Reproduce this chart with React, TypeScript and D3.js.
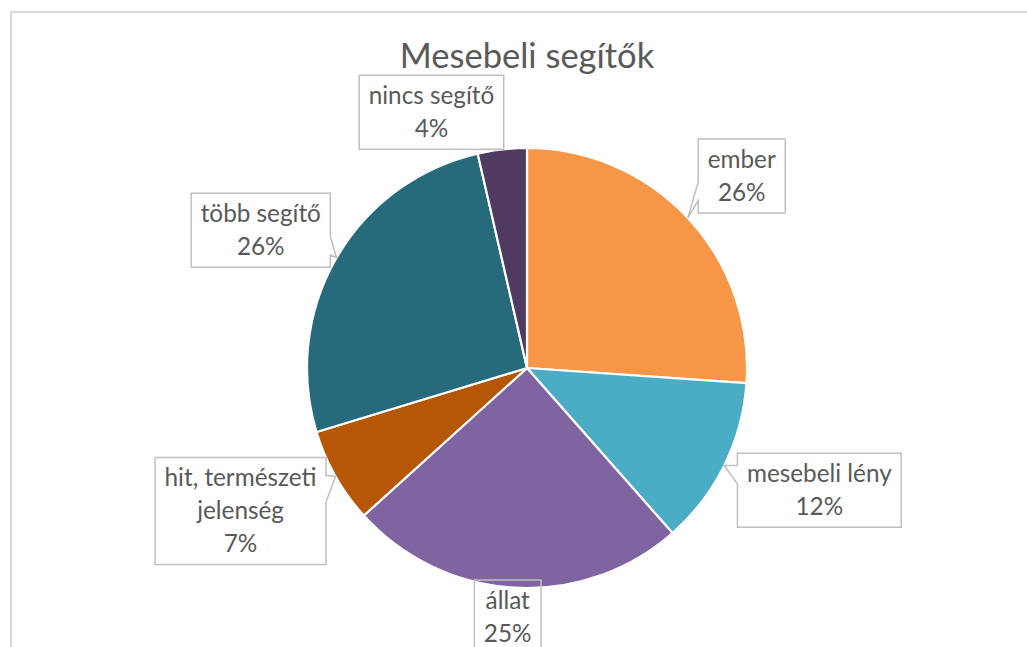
import React, { useEffect, useRef } from 'react';
import * as d3 from 'd3';

const width = 1027,
      height = 647;

const title = 'Mesebeli segítők';
const categories = ['ember', 'mesebeli lény', 'állat', 'hit, természeti jelenség', 'több segítő', 'nincs segítő'];
const shares = [26.1, 12.4, 24.8, 7.0, 26.1, 3.6];
const colors = ['#F79646', '#4BACC6', '#8064A2', '#B65708', '#276A7C', '#4F3B62'];

// callout placement tweaks per label (degrees of rotation, px away from the rim)
const labelNudge = [1.2, -3.6, 1.2, 3, -2.7, -14];
const labelGap = [11, 7, -8, 0, 1, 0];

const cx = 527, cy = 368, radius = 220;
const font = 'Lato, "Open Sans", sans-serif';
const textColor = '#595959';
const labelSize = 24.3, lineH = 33, padX = 9.5, padY = 4, wrapWidth = 175;

// office style wedgeRectCallout outline
const callout = (l: number, t: number, w: number, h: number, px: number, py: number) => {
    const r = l + w, b = t + h;
    if (px >= l && px <= r && py >= t && py <= b) {
        return `M${l},${t}L${r},${t}L${r},${b}L${l},${b}Z`;
    }
    const dxPos = px - (l + w / 2), dyPos = py - (t + h / 2);
    const x1 = l + w * (dxPos > 0 ? 7 : 2) / 12, x2 = l + w * (dxPos > 0 ? 10 : 5) / 12;
    const y1 = t + h * (dyPos > 0 ? 7 : 2) / 12, y2 = t + h * (dyPos > 0 ? 10 : 5) / 12;
    if (Math.abs(dxPos * h / w) > Math.abs(dyPos)) {
        if (dxPos < 0) return `M${l},${t}L${r},${t}L${r},${b}L${l},${b}L${l},${y2}L${px},${py}L${l},${y1}Z`;
        return `M${l},${t}L${r},${t}L${r},${y1}L${px},${py}L${r},${y2}L${r},${b}L${l},${b}Z`;
    }
    if (dyPos < 0) return `M${l},${t}L${x1},${t}L${px},${py}L${x2},${t}L${r},${t}L${r},${b}L${l},${b}Z`;
    return `M${l},${t}L${r},${t}L${r},${b}L${x2},${b}L${px},${py}L${x1},${b}L${l},${b}Z`;
};

const PieChart = () => {
    const ref = useRef<SVGSVGElement>(null);

    useEffect(() => {
        const svg = d3.select(ref.current);
        svg.selectAll('*').remove();

        svg.append('rect')
            .attr('x', 11).attr('y', 12)
            .attr('width', 1100).attr('height', 800)
            .attr('fill', '#fff')
            .attr('stroke', '#D9D9D9')
            .attr('stroke-width', 2);

        svg.append('text')
            .text(title)
            .attr('x', cx).attr('y', 68)
            .attr('text-anchor', 'middle')
            .attr('font-family', font)
            .attr('font-size', 34.5)
            .attr('fill', textColor);

        const g = svg.append('g').attr('transform', `translate(${cx},${cy})`);

        const pie = d3.pie<number>().sort(null).value(d => d);
        const arcs = pie(shares);
        const arc = d3.arc<d3.PieArcDatum<number>>().innerRadius(0).outerRadius(radius);
        const total = d3.sum(shares);
        const pct = (v: number) => Math.round(v / total * 100) + '%';

        g.selectAll('path.slice')
            .data(arcs)
            .join('path')
            .attr('class', 'slice')
            .attr('d', arc)
            .attr('fill', (d, i) => colors[i])
            .attr('stroke', '#fff')
            .attr('stroke-width', 2.2)
            .attr('stroke-linejoin', 'round');

        arcs.forEach((d, i) => {
            const grp = g.append('g');
            const txt = grp.append('text')
                .attr('font-family', font)
                .attr('font-size', labelSize)
                .attr('fill', textColor)
                .attr('text-anchor', 'middle');

            // greedy word wrap
            const lines: string[] = [];
            const probe = txt.append('tspan');
            let cur = '';
            categories[i].split(' ').forEach(w => {
                const test = cur ? cur + ' ' + w : w;
                probe.text(test);
                if (cur && (probe.node() as SVGTSpanElement).getComputedTextLength() > wrapWidth) {
                    lines.push(cur);
                    cur = w;
                } else cur = test;
            });
            lines.push(cur);
            lines.push(pct(d.value));
            probe.remove();

            const spans = lines.map(l => txt.append('tspan').attr('x', 0).text(l));
            const tw = d3.max(spans, s => (s.node() as SVGTSpanElement).getComputedTextLength()) || 0;
            const bw = tw + 2 * padX, bh = lines.length * lineH + 2 * padY;

            const mid = (d.startAngle + d.endAngle) / 2;
            const a = mid + labelNudge[i] * Math.PI / 180;
            const ux = Math.sin(a), uy = -Math.cos(a);
            const target = radius + labelGap[i];
            const near = (t: number) => Math.hypot(
                Math.max(Math.abs(t * ux) - bw / 2, 0),
                Math.max(Math.abs(t * uy) - bh / 2, 0));
            let lo = 0, hi = 1000;
            for (let k = 0; k < 60; k++) {
                const m = (lo + hi) / 2;
                if (near(m) < target) lo = m; else hi = m;
            }
            const bx = lo * ux, by = lo * uy;
            const px = Math.sin(mid) * radius, py = -Math.cos(mid) * radius;

            grp.insert('path', 'text')
                .attr('d', callout(bx - bw / 2, by - bh / 2, bw, bh, px, py))
                .attr('fill', 'none')
                .attr('stroke', '#BFBFBF')
                .attr('stroke-width', 1.5);

            txt.attr('transform', `translate(${bx},${by})`);
            spans.forEach((s, j) => s
                .attr('y', (j - (lines.length - 1) / 2) * lineH)
                .attr('dy', '0.35em'));
        });
    }, []);

    return (
        <svg
            ref={ref}
            width={width}
            height={height}
            style={{ position: 'absolute', left: 0, top: 0 }}
            viewBox={`0 0 ${width} ${height}`}>
        </svg>
    );
};

export default function App() {
    return <PieChart />;
}
